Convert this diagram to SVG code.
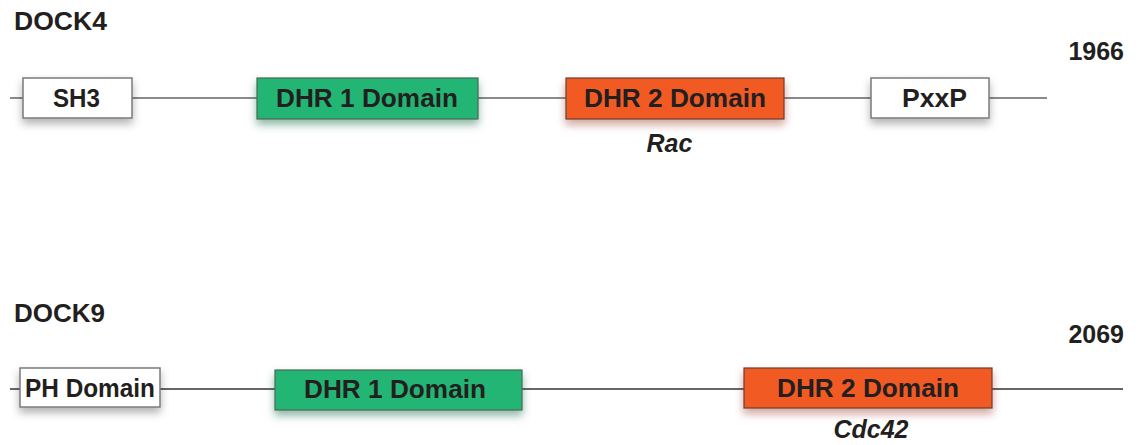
<svg xmlns="http://www.w3.org/2000/svg" width="1140" height="445" viewBox="0 0 1140 445">
<defs>
<filter id="sh" x="-20%" y="-40%" width="140%" height="200%">
<feDropShadow dx="0" dy="5" stdDeviation="4" flood-color="#000" flood-opacity="0.3"/>
</filter>
<filter id="shg" x="-20%" y="-40%" width="140%" height="200%">
<feDropShadow dx="0" dy="5" stdDeviation="4" flood-color="#0a5a30" flood-opacity="0.45"/>
</filter>
<filter id="sho" x="-20%" y="-40%" width="140%" height="200%">
<feDropShadow dx="0" dy="5" stdDeviation="4" flood-color="#8a1a10" flood-opacity="0.4"/>
</filter>
<style>
.t{font-family:"Liberation Sans",Arial,sans-serif;font-weight:bold;fill:#231f20}
.lbl{font-size:25px}
.box{font-size:25px;text-anchor:middle}
.it{font-size:25px;font-style:italic;text-anchor:middle}
.w{fill:#fff;stroke:#7a7a7a;stroke-width:1.5}
.g{fill:#22b573;stroke:#4a6a55;stroke-width:1.2}
.o{fill:#f15a24;stroke:#6a4030;stroke-width:1.2}
</style>
</defs>
<g id="connectors">
<line x1="10" y1="98" x2="1047" y2="98" stroke="#8a8a8a" stroke-width="2"/>
<line x1="10" y1="389" x2="1123" y2="389" stroke="#333" stroke-width="1.5"/>
</g>
<g id="dock4-label"><text class="t lbl" x="14" y="30" textLength="93" lengthAdjust="spacingAndGlyphs">DOCK4</text></g>
<g id="dock4-len"><text class="t lbl" x="1124" y="60" text-anchor="end">1966</text></g>
<g id="sh3"><rect class="w" x="23" y="78" width="109" height="40" filter="url(#sh)"/><text class="t box" x="76.5" y="107" textLength="47" lengthAdjust="spacingAndGlyphs">SH3</text></g>
<g id="dock4-dhr1"><rect class="g" x="257" y="78" width="221" height="41" filter="url(#shg)"/><text class="t box" x="367" y="107" textLength="182" lengthAdjust="spacingAndGlyphs">DHR 1 Domain</text></g>
<g id="dock4-dhr2"><rect class="o" x="566" y="78" width="218" height="41" filter="url(#sho)"/><text class="t box" x="675" y="107" textLength="182" lengthAdjust="spacingAndGlyphs">DHR 2 Domain</text></g>
<g id="pxxp"><rect class="w" x="871" y="78" width="118" height="40" filter="url(#sh)"/><text class="t box" x="934.5" y="107" textLength="65" lengthAdjust="spacingAndGlyphs">PxxP</text></g>
<g id="rac"><text class="t it" x="669.5" y="152">Rac</text></g>
<g id="dock9-label"><text class="t lbl" x="14" y="322" textLength="91" lengthAdjust="spacingAndGlyphs">DOCK9</text></g>
<g id="dock9-len"><text class="t lbl" x="1124" y="343" text-anchor="end">2069</text></g>
<g id="ph"><rect class="w" x="20" y="368" width="140" height="39" filter="url(#sh)"/><text class="t box" x="90" y="397" textLength="130" lengthAdjust="spacingAndGlyphs">PH Domain</text></g>
<g id="dock9-dhr1"><rect class="g" x="275" y="370" width="247" height="40" filter="url(#shg)"/><text class="t box" x="395" y="398" textLength="182" lengthAdjust="spacingAndGlyphs">DHR 1 Domain</text></g>
<g id="dock9-dhr2"><rect class="o" x="744" y="368" width="248" height="40" filter="url(#sho)"/><text class="t box" x="868" y="397" textLength="182" lengthAdjust="spacingAndGlyphs">DHR 2 Domain</text></g>
<g id="cdc42"><text class="t it" x="871" y="438">Cdc42</text></g>
</svg>
